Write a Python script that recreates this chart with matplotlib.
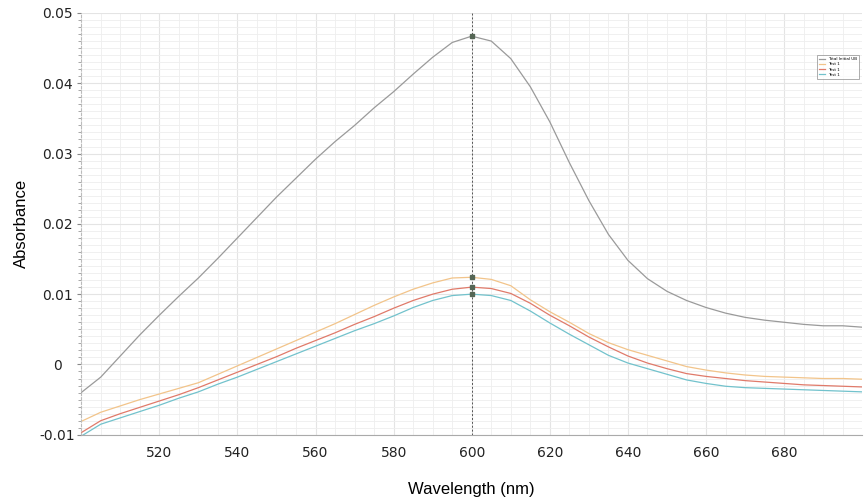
import matplotlib
matplotlib.use("Agg")
import matplotlib.pyplot as plt
from matplotlib.ticker import MultipleLocator
import numpy as np

# wavelength grid (nm), 5 nm steps
wavelength = list(range(500, 705, 5))

total_initial = [-0.0040, -0.0018, 0.0012, 0.0042, 0.0070, 0.0097, 0.0123, 0.0151, 0.0180,
                 0.0209, 0.0238, 0.0265, 0.0292, 0.0317, 0.0340, 0.0365, 0.0388, 0.0413,
                 0.0437, 0.0458, 0.0467, 0.0460, 0.0435, 0.0395, 0.0345, 0.0287, 0.0233,
                 0.0185, 0.0148, 0.0122, 0.0104, 0.0091, 0.0081, 0.0073, 0.0067, 0.0063,
                 0.0060, 0.0057, 0.0055, 0.0055, 0.0053]

test_yellow = [-0.0081, -0.0068, -0.0059, -0.0050, -0.0042, -0.0034, -0.0026, -0.0014, -0.0002,
               0.0010, 0.0022, 0.0034, 0.0046, 0.0058, 0.0071, 0.0084, 0.0096, 0.0107,
               0.0116, 0.0123, 0.0124, 0.0121, 0.0112, 0.0092, 0.0075, 0.0060, 0.0044,
               0.0031, 0.0021, 0.0013, 0.0005, -0.0003, -0.0008, -0.0012, -0.0015, -0.0017,
               -0.0018, -0.0019, -0.0020, -0.0020, -0.0021]

test_red = [-0.0097, -0.0080, -0.0070, -0.0061, -0.0052, -0.0043, -0.0033, -0.0022, -0.0011,
            0.0000, 0.0011, 0.0023, 0.0034, 0.0045, 0.0057, 0.0068, 0.0080, 0.0091,
            0.0100, 0.0107, 0.0110, 0.0108, 0.0101, 0.0087, 0.0070, 0.0055, 0.0039,
            0.0025, 0.0012, 0.0002, -0.0006, -0.0013, -0.0017, -0.0020, -0.0023, -0.0025,
            -0.0027, -0.0029, -0.0030, -0.0031, -0.0032]

test_cyan = [-0.0102, -0.0085, -0.0076, -0.0067, -0.0058, -0.0048, -0.0039, -0.0028, -0.0018,
             -0.0007, 0.0004, 0.0015, 0.0026, 0.0037, 0.0048, 0.0058, 0.0069, 0.0081,
             0.0091, 0.0098, 0.0100, 0.0098, 0.0091, 0.0076, 0.0059, 0.0043, 0.0028,
             0.0013, 0.0002, -0.0006, -0.0014, -0.0022, -0.0027, -0.0031, -0.0033, -0.0034,
             -0.0035, -0.0036, -0.0037, -0.0038, -0.0039]

series_labels = ["Total Initial UB", "Test 1", "Test 1", "Test 1"]
series_colors = ["#9a9a9a", "#f2c48a", "#e07a6a", "#72c2cc"]
cursor_nm = 600

fig = plt.figure(figsize=(8.64, 4.98), dpi=100)
ax = fig.add_axes([0.094, 0.127, 0.904, 0.847])

all_series = [total_initial, test_yellow, test_red, test_cyan]
for vals, lab, col in zip(all_series, series_labels, series_colors):
  ax.plot(wavelength, vals, color=col, linewidth=0.9, label=lab)

# cursor line with markers at 600 nm
ax.axvline(cursor_nm, color="#555555", linestyle=(0, (2, 2)), linewidth=0.7)
idx = wavelength.index(cursor_nm)
for vals in all_series:
  ax.plot(cursor_nm, vals[idx], marker="s", markersize=2.5, color="#556655", zorder=5)

ax.set_xlim(500, 700)
ax.set_ylim(-0.01, 0.05)

ax.xaxis.set_minor_locator(MultipleLocator(5))
ax.yaxis.set_minor_locator(MultipleLocator(0.001))

ax.set_xticks([520, 540, 560, 580, 600, 620, 640, 660, 680])
ax.set_yticks([-0.01, 0, 0.01, 0.02, 0.03, 0.04, 0.05])
ax.set_yticklabels(["-0.01", "0", "0.01", "0.02", "0.03", "0.04", "0.05"])

ax.grid(which="major", color="#e4e4e4", linewidth=0.8)
ax.grid(which="minor", color="#eeeeee", linewidth=0.6)
ax.set_axisbelow(True)

ax.tick_params(axis="x", which="both", length=0, pad=8, labelsize=10, labelcolor="#222222")
ax.tick_params(axis="y", which="major", length=3, pad=14, labelsize=10, labelcolor="#222222",
               color="#888888")
ax.tick_params(axis="y", which="minor", length=2, color="#999999")
for lbl in ax.get_yticklabels():
  lbl.set_horizontalalignment("center")

for side in ["top", "right"]:
  ax.spines[side].set_visible(False)
ax.spines["left"].set_color("#bbbbbb")
ax.spines["left"].set_linestyle((0, (2, 2)))
ax.spines["bottom"].set_color("#aaaaaa")

ax.set_xlabel("Wavelength (nm)", fontsize=12, family="Liberation Sans", labelpad=16)
ax.set_ylabel("Absorbance", fontsize=12, family="Liberation Sans", labelpad=8)

leg = ax.legend(loc="upper right", bbox_to_anchor=(0.999, 0.905), fontsize=3,
                handlelength=1.5, frameon=True, borderpad=0.5, labelspacing=0.3,
                fancybox=False, edgecolor="#888888")
leg.get_frame().set_linewidth(0.6)

plt.savefig("out.png", dpi=100)
plt.close()
